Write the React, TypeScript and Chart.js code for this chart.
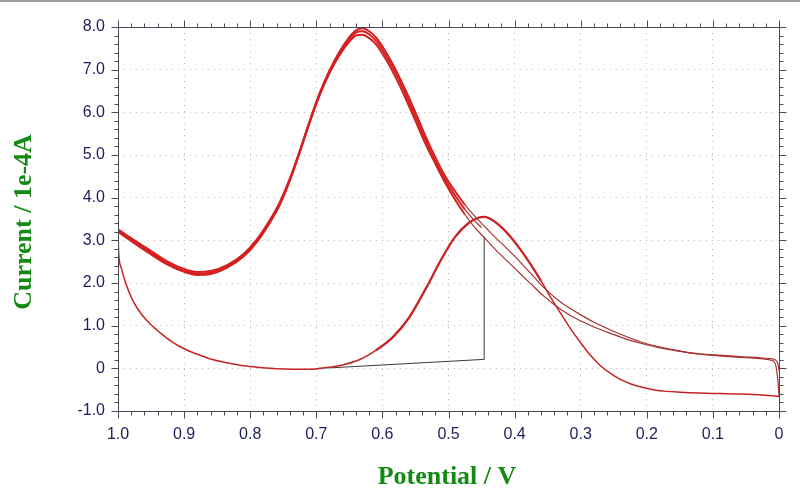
import React, { useEffect, useRef } from "react";
import { Chart, registerables } from "chart.js";

Chart.register(...registerables);

// ---- axis ticks ----
const xTickValues = [1.0, 0.9, 0.8, 0.7, 0.6, 0.5, 0.4, 0.3, 0.2, 0.1, 0.0];
const xTickLabels = ["1.0", "0.9", "0.8", "0.7", "0.6", "0.5", "0.4", "0.3", "0.2", "0.1", "0"];
const yTickValues = [8, 7, 6, 5, 4, 3, 2, 1, 0, -1];
const yTickLabels = ["8.0", "7.0", "6.0", "5.0", "4.0", "3.0", "2.0", "1.0", "0", "-1.0"];
const xMinorStep = 0.02;
const yMinorStep = 0.2;

const xTitle = "Potential / V";
const yTitle = "Current / 1e-4A";

// ---- forward sweep 1.0 V -> 0 V ----
const lowerPot = [1.0, 0.999, 0.995, 0.988, 0.978, 0.965, 0.95, 0.936, 0.92, 0.9, 0.88, 0.86, 0.835, 0.81, 0.785, 0.76, 0.735, 0.71, 0.685, 0.66, 0.635, 0.61, 0.585, 0.56, 0.535, 0.51, 0.49, 0.47, 0.455, 0.445, 0.435, 0.42, 0.405, 0.39, 0.375, 0.36, 0.345, 0.33, 0.315, 0.3, 0.285, 0.27, 0.255, 0.24, 0.225, 0.21, 0.19, 0.17, 0.15, 0.12, 0.09, 0.06, 0.03, 0.01, 0.0];
const lowerCur = [3.22, 2.7, 2.35, 1.98, 1.6, 1.28, 1.02, 0.83, 0.64, 0.46, 0.33, 0.22, 0.13, 0.06, 0.02, -0.01, -0.02, -0.02, 0.02, 0.08, 0.2, 0.42, 0.72, 1.18, 1.85, 2.58, 3.08, 3.4, 3.53, 3.55, 3.49, 3.31, 3.06, 2.76, 2.42, 2.05, 1.65, 1.28, 0.92, 0.6, 0.3, 0.06, -0.12, -0.26, -0.36, -0.43, -0.5, -0.54, -0.56, -0.58, -0.59, -0.6, -0.62, -0.64, -0.66];

// ---- return sweep 0 V -> 1.0 V, cycle A (outer) ----
const retAPot = [0.0, 0.002, 0.006, 0.015, 0.03, 0.055, 0.08, 0.105, 0.13, 0.155, 0.18, 0.205, 0.23, 0.255, 0.28, 0.305, 0.33, 0.355, 0.37, 0.385, 0.4, 0.415, 0.43, 0.445, 0.46, 0.475, 0.49, 0.505, 0.52, 0.535, 0.55, 0.565, 0.58, 0.595, 0.61, 0.62, 0.63, 0.64, 0.65, 0.665, 0.68, 0.695, 0.71, 0.725, 0.74, 0.755, 0.77, 0.79, 0.81, 0.835, 0.86, 0.88, 0.9, 0.925, 0.95, 0.975, 1.0];
const retACur = [-0.05, 0.12, 0.2, 0.23, 0.25, 0.27, 0.3, 0.32, 0.36, 0.42, 0.5, 0.6, 0.74, 0.9, 1.08, 1.3, 1.55, 1.88, 2.13, 2.38, 2.63, 2.86, 3.08, 3.32, 3.56, 3.83, 4.15, 4.5, 4.95, 5.45, 6.0, 6.52, 7.0, 7.42, 7.76, 7.9, 7.97, 7.92, 7.76, 7.42, 6.98, 6.45, 5.8, 5.1, 4.45, 3.9, 3.48, 3.02, 2.68, 2.42, 2.28, 2.26, 2.33, 2.5, 2.75, 3.0, 3.26];

// ---- return sweep, cycle B (inner) ----
const retBPot = [0.0, 0.001, 0.003, 0.006, 0.012, 0.025, 0.05, 0.08, 0.105, 0.13, 0.155, 0.18, 0.205, 0.23, 0.255, 0.28, 0.305, 0.33, 0.355, 0.37, 0.385, 0.4, 0.415, 0.43, 0.445, 0.46, 0.475, 0.49, 0.505, 0.52, 0.535, 0.55, 0.565, 0.58, 0.595, 0.61, 0.62, 0.63, 0.64, 0.65, 0.665, 0.68, 0.695, 0.71, 0.725, 0.74, 0.755, 0.77, 0.79, 0.81, 0.835, 0.86, 0.88, 0.9, 0.925, 0.95, 0.975, 1.0];
const retBCur = [-0.66, -0.4, -0.1, 0.12, 0.19, 0.22, 0.25, 0.28, 0.31, 0.35, 0.41, 0.48, 0.57, 0.68, 0.82, 0.97, 1.15, 1.38, 1.68, 1.9, 2.12, 2.35, 2.57, 2.8, 3.05, 3.3, 3.6, 3.95, 4.35, 4.8, 5.27, 5.8, 6.33, 6.82, 7.25, 7.6, 7.74, 7.82, 7.8, 7.66, 7.34, 6.92, 6.4, 5.76, 5.06, 4.4, 3.84, 3.42, 2.96, 2.62, 2.36, 2.21, 2.19, 2.26, 2.43, 2.67, 2.93, 3.2];

// ---- return sweep, cycle C (middle) ----
const retCPot = [0.45, 0.46, 0.475, 0.49, 0.505, 0.52, 0.535, 0.55, 0.565, 0.58, 0.595, 0.61, 0.62, 0.63, 0.64, 0.65, 0.665, 0.68, 0.695, 0.71, 0.725, 0.74, 0.755, 0.77, 0.79, 0.81, 0.835, 0.86, 0.88, 0.9, 0.925, 0.95, 0.975, 1.0];
const retCCur = [3.3, 3.45, 3.72, 4.05, 4.42, 4.86, 5.36, 5.9, 6.43, 6.92, 7.34, 7.68, 7.83, 7.9, 7.87, 7.72, 7.38, 6.95, 6.42, 5.78, 5.08, 4.42, 3.87, 3.45, 2.99, 2.65, 2.39, 2.24, 2.22, 2.29, 2.46, 2.71, 2.96, 3.23];

// ---- initial segment ----
const initPot = [0.68, 0.446, 0.446];
const initCur = [0.01, 0.21, 3.08];
const startPot = [0.7, 0.68];
const startCur = [-0.01, 0.01];

const zip = (xs: number[], ys: number[]) => xs.map((x, i) => ({ x, y: ys[i] }));

const framePlugin = {
  id: "cvFrame",
  afterDatasetsDraw(chart: any) {
    const { ctx, chartArea: a, scales } = chart;
    const xs = scales.x;
    const ys = scales.y;
    ctx.save();
    ctx.strokeStyle = "#4b4b58";
    ctx.lineWidth = 1;
    const L = Math.round(a.left) + 0.5;
    const R = Math.round(a.right) + 0.5;
    const T = Math.round(a.top) + 0.5;
    const B = Math.round(a.bottom) + 0.5;
    ctx.beginPath();
    ctx.rect(L, T, R - L, B - T);
    ctx.stroke();
    ctx.beginPath();
    const nx = Math.round(1 / xMinorStep);
    for (let i = 0; i <= nx; i++) {
      const px = Math.round(xs.getPixelForValue(i * xMinorStep)) + 0.5;
      const len = i % 5 === 0 ? 7 : 4;
      ctx.moveTo(px, B);
      ctx.lineTo(px, B + len);
      ctx.moveTo(px, T);
      ctx.lineTo(px, T - len);
    }
    const ny = Math.round(9 / yMinorStep);
    for (let i = 0; i <= ny; i++) {
      const py = Math.round(ys.getPixelForValue(-1 + i * yMinorStep)) + 0.5;
      const len = i % 5 === 0 ? 7 : 4;
      ctx.moveTo(L, py);
      ctx.lineTo(L - len, py);
      ctx.moveTo(R, py);
      ctx.lineTo(R + len, py);
    }
    ctx.stroke();
    ctx.restore();
  },
  afterDraw(chart: any) {
    const { ctx } = chart;
    ctx.save();
    ctx.fillStyle = "#9c9c9c";
    ctx.fillRect(0, 0, 800, 2);
    ctx.fillStyle = "#148a14";
    ctx.font = 'bold 26px "Liberation Serif", "Times New Roman", serif';
    ctx.textAlign = "center";
    ctx.textBaseline = "middle";
    ctx.fillText(xTitle, 447, 477);
    ctx.translate(24, 222);
    ctx.rotate(-Math.PI / 2);
    ctx.fillText(yTitle, 0, 0);
    ctx.restore();
  },
};

export default function App() {
  const ref = useRef<HTMLCanvasElement | null>(null);
  useEffect(() => {
    if (!ref.current) return;
    const red = "#d42020";
    const darkRed = "#a53232";
    const retSeg = {
      borderWidth: (c: any) => (c.p0.parsed.x >= 0.47 ? 2 : 1.2),
      borderColor: (c: any) => (c.p0.parsed.x >= 0.47 ? red : darkRed),
    };
    const chart = new Chart(ref.current, {
      type: "line",
      data: {
        datasets: [
          {
            data: zip(lowerPot, lowerCur),
            borderColor: "#c62424",
            borderWidth: 1.6,
            segment: {
              borderWidth: (c: any) => (c.p0.parsed.x > 0.37 && c.p0.parsed.x < 0.62 ? 2.3 : 1.5),
            },
          },
          { data: zip(retBPot, retBCur), borderColor: red, borderWidth: 2, segment: retSeg },
          { data: zip(retCPot, retCCur), borderColor: red, borderWidth: 2, segment: retSeg },
          { data: zip(retAPot, retACur), borderColor: red, borderWidth: 2, segment: retSeg },
          { data: zip(initPot, initCur), borderColor: "#3a3a3a", borderWidth: 1, cubicInterpolationMode: "default", tension: 0 },
          { data: zip(startPot, startCur), borderColor: "#6fd6d6", borderWidth: 1.5, cubicInterpolationMode: "default", tension: 0 },
        ] as any,
      },
      options: {
        responsive: false,
        animation: false,
        devicePixelRatio: 1,
        parsing: false as any,
        elements: {
          point: { radius: 0 },
          line: { cubicInterpolationMode: "monotone", fill: false },
        },
        layout: { padding: { top: 27, right: 21, left: 0, bottom: 0 } },
        plugins: { legend: { display: false }, tooltip: { enabled: false } },
        scales: {
          x: {
            type: "linear",
            min: 0,
            max: 1,
            reverse: true,
            afterFit: (s: any) => {
              s.height = 82;
            },
            afterBuildTicks: (s: any) => {
              s.ticks = xTickValues.map((v) => ({ value: v }));
            },
            ticks: {
              autoSkip: false,
              maxRotation: 0,
              padding: 14,
              color: "#1e1e5a",
              font: { family: '"Liberation Sans", Arial, sans-serif', size: 16 },
              callback: (v: any) => {
                const i = xTickValues.findIndex((t) => Math.abs(t - v) < 1e-6);
                return i >= 0 ? xTickLabels[i] : "";
              },
            },
            grid: { color: "#bcbcbc", lineWidth: 1, drawTicks: false },
            border: { display: false, dash: [1, 5] },
          },
          y: {
            type: "linear",
            min: -1,
            max: 8,
            afterFit: (s: any) => {
              s.width = 118;
            },
            afterBuildTicks: (s: any) => {
              s.ticks = yTickValues.map((v) => ({ value: v }));
            },
            ticks: {
              autoSkip: false,
              padding: 13,
              color: "#1e1e5a",
              font: { family: '"Liberation Sans", Arial, sans-serif', size: 16 },
              callback: (v: any) => {
                const i = yTickValues.findIndex((t) => Math.abs(t - v) < 1e-6);
                return i >= 0 ? yTickLabels[i] : "";
              },
            },
            grid: { color: "#bcbcbc", lineWidth: 1, drawTicks: false },
            border: { display: false, dash: [1, 5] },
          },
        },
      },
      plugins: [framePlugin],
    });
    return () => chart.destroy();
  }, []);
  return (
    <div style={{ position: "fixed", left: 0, top: 0, width: 800, height: 493, background: "#fff" }}>
      <canvas ref={ref} width={800} height={493} style={{ display: "block", width: 800, height: 493 }} />
    </div>
  );
}
